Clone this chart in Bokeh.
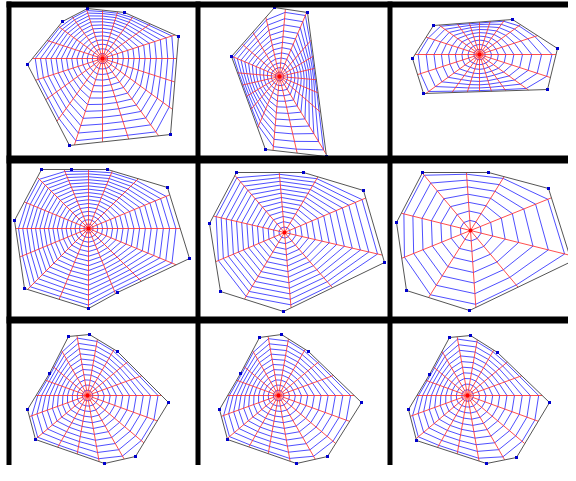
import numpy as np
from bokeh.plotting import figure
from bokeh.models import Range1d
from bokeh.embed import file_html
from bokeh.resources import INLINE

# ---- data (reference pixel coordinates, y pointing down) ----
FRAME_1 = [(87, 8), (124, 12), (178, 36), (170, 134), (69, 145), (27, 64), (62, 21)]
FRAME_2 = [(274, 7), (307, 12), (326, 156), (265, 149), (231, 56)]
FRAME_3 = [(433, 25), (512, 19), (557, 48), (547, 89), (423, 93), (412, 58)]
FRAME_4 = [(41, 169), (71, 169), (107, 169), (167, 187), (189, 258), (117, 292), (88, 308), (24, 288), (14, 220)]
FRAME_5 = [(236, 172), (303, 172), (363, 190), (384, 262), (283, 311), (220, 291), (209, 223)]
FRAME_6 = [(422, 172), (488, 172), (548, 188), (571, 261), (469, 310), (406, 290), (396, 222)]
FRAME_7 = [(68, 336), (89, 334), (117, 351), (168, 402), (135, 456), (104, 463), (35, 439), (27, 409), (49, 373)]
FRAME_8 = [(259, 337), (281, 334), (308, 351), (361, 402), (327, 456), (296, 463), (227, 439), (219, 409), (240, 373)]
FRAME_9 = [(449, 337), (470, 335), (497, 352), (549, 402), (516, 457), (486, 463), (416, 440), (408, 409), (429, 374)]

HUBS = [(102, 58), (279, 76), (479, 54), (88, 228), (284, 232), (470, 230), (87, 395), (278, 395), (467, 395)]
RADIAL_COUNTS = [20, 20, 20, 16, 10, 10, 18, 18, 18]
RING_COUNTS = [13, 12, 9, 16, 13, 7, 11, 11, 10]
RADIAL_OFFSETS_DEG = [0, 5, 0, 0, 13, 14, 0, 0, 0]

V_BANDS = [(6, 11), (195, 200), (387, 392)]
H_BANDS = [(1, 7), (155, 163), (316, 323), (476, 481)]

FRAMES = [FRAME_1, FRAME_2, FRAME_3, FRAME_4, FRAME_5, FRAME_6, FRAME_7, FRAME_8, FRAME_9]


def ray_hit(hub, d, poly):
    hx, hy = hub
    best = None
    n = len(poly)
    for i in range(n):
        ax, ay = poly[i]
        bx, by = poly[(i + 1) % n]
        ex, ey = bx - ax, by - ay
        den = d[0] * (-ey) - d[1] * (-ex)
        if abs(den) < 1e-12:
            continue
        rx, ry = ax - hx, ay - hy
        s = (rx * (-ey) - ry * (-ex)) / den
        u = (d[0] * ry - d[1] * rx) / den
        if s > 0 and -1e-9 <= u <= 1 + 1e-9:
            if best is None or s < best:
                best = s
    return best


p = figure(width=568, height=465, x_range=Range1d(0, 568), y_range=Range1d(465, 0),
           output_backend="svg", toolbar_location=None, min_border=0,
           x_axis_location=None, y_axis_location=None, background_fill_color="white")
p.grid.visible = False
p.outline_line_color = None

for frame, hub, nr, nk, off in zip(FRAMES, HUBS, RADIAL_COUNTS, RING_COUNTS, RADIAL_OFFSETS_DEG):
    ang = np.deg2rad(off) + 2 * np.pi * np.arange(nr) / nr
    dirs = np.stack([np.cos(ang), np.sin(ang)], axis=1)
    lens = np.array([ray_hit(hub, d, frame) for d in dirs])
    lmean = lens.mean()
    # rings (blue)
    rx, ry = [], []
    for k in range(1, nk + 1):
        t = k / nk * 0.96
        r = t * (t * lens + (1 - t) * lmean)
        r = np.minimum(r, 0.97 * lens)
        xs = list(hub[0] + r * dirs[:, 0]) + [hub[0] + r[0] * dirs[0, 0]]
        ys = list(hub[1] + r * dirs[:, 1]) + [hub[1] + r[0] * dirs[0, 1]]
        rx.append(xs)
        ry.append(ys)
    p.multi_line(rx, ry, line_color="#3030ff", line_width=1, line_alpha=0.85)
    # radials (red)
    sx = [[hub[0], hub[0] + L * d[0]] for L, d in zip(lens, dirs)]
    sy = [[hub[1], hub[1] + L * d[1]] for L, d in zip(lens, dirs)]
    p.multi_line(sx, sy, line_color="#ff3030", line_width=1, line_alpha=0.85)
    # frame
    fx = [v[0] for v in frame] + [frame[0][0]]
    fy = [v[1] for v in frame] + [frame[0][1]]
    p.line(fx, fy, line_color="#555555", line_width=1)
    p.scatter([v[0] for v in frame], [v[1] for v in frame], marker="square", size=3,
              fill_color="#0000cc", line_color=None)
    p.scatter([hub[0]], [hub[1]], size=4, fill_color="#ff0000", line_color=None)

# black cell borders
p.quad(left=[a for a, b in V_BANDS], right=[b for a, b in V_BANDS],
       top=[1] * len(V_BANDS), bottom=[481] * len(V_BANDS), fill_color="black", line_color=None)
p.quad(left=[6] * len(H_BANDS), right=[576] * len(H_BANDS),
       top=[a for a, b in H_BANDS], bottom=[b for a, b in H_BANDS], fill_color="black", line_color=None)

open("out.html", "w").write(file_html(p, INLINE))
